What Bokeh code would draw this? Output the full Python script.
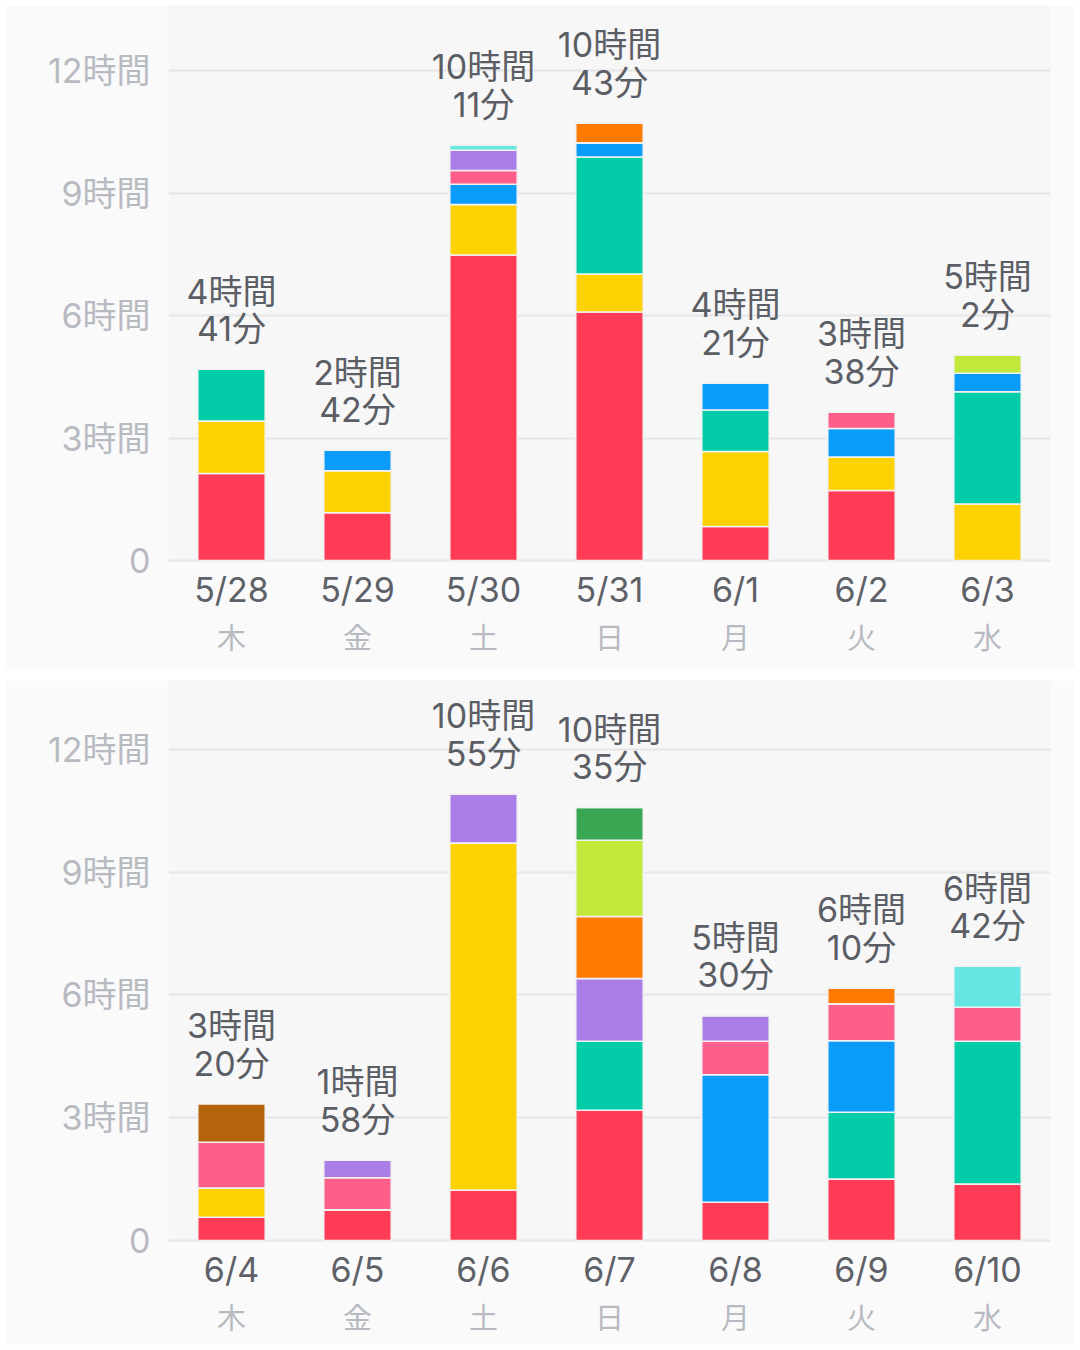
from bokeh.plotting import figure
from bokeh.models import FactorRange, Range1d, ColumnDataSource, FixedTicker, CategoricalAxis, Spacer
from bokeh.layouts import column, row
from bokeh.embed import file_html
from bokeh.resources import INLINE
from bokeh.core.properties import value

FONT = "Inter, Noto Sans CJK JP"
CJK = "Noto Sans CJK JP"

# ---- data (minutes per category, stacked bottom -> top) ----
series_names = ["red", "yellow", "teal", "blue", "pink", "purple",
                "cyan", "orange", "lime", "darkgreen", "brown"]
series_colors = ["#FF3B55", "#FDD200", "#03CCA8", "#0A9CF8", "#FE5E8A", "#AA7EE6",
                 "#67E5E3", "#FE7A00", "#C2E83B", "#39A653", "#B4640A"]

weekdays = ["木", "金", "土", "日", "月", "火", "水"]
y_ticks = [0, 3, 6, 9, 12]
y_tick_labels = ["0", "3時間", "6時間", "9時間", "12時間"]

week1_dates = ["5/28", "5/29", "5/30", "5/31", "6/1", "6/2", "6/3"]
week1_red = [128, 70, 449, 365, 50, 103, 0]
week1_yellow = [77, 62, 74, 56, 110, 49, 83]
week1_teal = [76, 0, 0, 172, 61, 0, 165]
week1_blue = [0, 30, 30, 21, 40, 42, 27]
week1_pink = [0, 0, 20, 0, 0, 24, 0]
week1_purple = [0, 0, 30, 0, 0, 0, 0]
week1_cyan = [0, 0, 8, 0, 0, 0, 0]
week1_orange = [0, 0, 0, 29, 0, 0, 0]
week1_lime = [0, 0, 0, 0, 0, 0, 27]
week1_darkgreen = [0, 0, 0, 0, 0, 0, 0]
week1_brown = [0, 0, 0, 0, 0, 0, 0]

week2_dates = ["6/4", "6/5", "6/6", "6/7", "6/8", "6/9", "6/10"]
week2_red = [34, 45, 74, 191, 56, 90, 83]
week2_yellow = [43, 0, 509, 0, 0, 0, 0]
week2_teal = [0, 0, 0, 101, 0, 98, 209]
week2_blue = [0, 0, 0, 0, 187, 105, 0]
week2_pink = [67, 47, 0, 0, 49, 54, 50]
week2_purple = [0, 26, 72, 92, 38, 0, 0]
week2_cyan = [0, 0, 0, 0, 0, 0, 60]
week2_orange = [0, 0, 0, 91, 0, 23, 0]
week2_lime = [0, 0, 0, 112, 0, 0, 0]
week2_darkgreen = [0, 0, 0, 48, 0, 0, 0]
week2_brown = [56, 0, 0, 0, 0, 0, 0]

week1 = [week1_red, week1_yellow, week1_teal, week1_blue, week1_pink, week1_purple,
         week1_cyan, week1_orange, week1_lime, week1_darkgreen, week1_brown]
week2 = [week2_red, week2_yellow, week2_teal, week2_blue, week2_pink, week2_purple,
         week2_cyan, week2_orange, week2_lime, week2_darkgreen, week2_brown]


def make_panel(dates, series, y_start, y_end, height, border_bottom):
    data = {"date": dates}
    for name, vals in zip(series_names, series):
        data[name] = [v / 60 for v in vals]
    totals = [sum(c) for c in zip(*series)]
    data["total_h"] = [t / 60 for t in totals]
    data["label"] = [f"{t // 60}時間\n{t % 60}分" for t in totals]
    src = ColumnDataSource(data)

    p = figure(x_range=FactorRange(*dates), y_range=Range1d(y_start, y_end),
               width=1070, height=height, output_backend="svg", toolbar_location=None,
               min_border_left=163, min_border_right=25, min_border_top=0,
               min_border_bottom=border_bottom)
    p.extra_x_ranges = {"wd": FactorRange(*weekdays)}
    p.background_fill_color = "#f7f7f8"
    p.border_fill_color = "#fafafa"
    p.outline_line_color = None

    p.vbar_stack(series_names, x="date", width=0.535, source=src,
                 color=series_colors, line_color="#f2f2f2", line_width=1.5)

    p.text(x="date", y="total_h", text="label", source=src,
           text_align="center", text_baseline="bottom", y_offset=-20,
           text_font=value(FONT), text_font_size="34px", text_color="#5b5e64",
           text_line_height=0.92)

    # y axis
    p.yaxis.ticker = FixedTicker(ticks=y_ticks)
    p.yaxis.major_label_overrides = dict(zip(y_ticks, y_tick_labels))
    p.yaxis.major_label_text_font = FONT
    p.yaxis.major_label_text_font_size = "34px"
    p.yaxis.major_label_text_color = "#b8bac1"
    p.yaxis.axis_line_color = None
    p.yaxis.major_tick_line_color = None
    p.yaxis.minor_tick_line_color = None
    p.yaxis.major_label_standoff = 12

    # grid
    p.xgrid.grid_line_color = None
    p.ygrid.ticker = FixedTicker(ticks=y_ticks)
    p.ygrid.grid_line_color = "#e6e6e9"
    p.ygrid.grid_line_width = 2

    # x axis: dates
    p.xaxis.major_label_text_font = FONT
    p.xaxis.major_label_text_font_size = "34px"
    p.xaxis.major_label_text_color = "#5e6167"
    p.xaxis.axis_line_color = None
    p.xaxis.major_tick_line_color = None
    p.xaxis.major_label_standoff = 0

    # second x axis: weekdays
    wd = CategoricalAxis(x_range_name="wd")
    wd.major_label_text_font = CJK
    wd.major_label_text_font_size = "29px"
    wd.major_label_text_color = "#b8bac1"
    wd.axis_line_color = None
    wd.major_tick_line_color = None
    wd.major_label_standoff = -4
    p.add_layout(wd, "below")
    return p


p1 = make_panel(week1_dates, week1, -0.049, 13.592, 663, 106)
p2 = make_panel(week2_dates, week2, -0.049, 13.686, 665, 103)

layout = row(Spacer(width=5),
             column(Spacer(height=5), column(p1, p2, spacing=12)))
open("out.html", "w").write(file_html(layout, INLINE))
